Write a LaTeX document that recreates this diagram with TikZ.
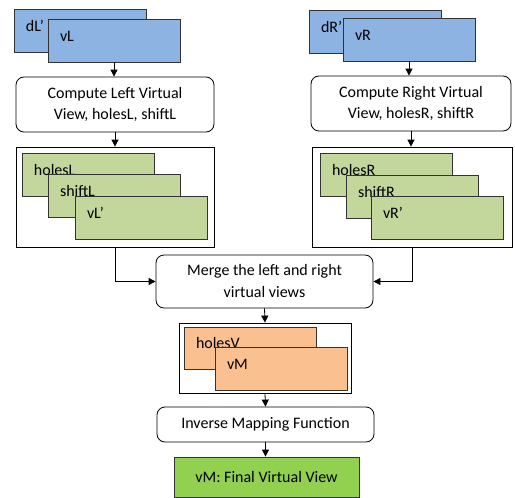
\documentclass[tikz,border=0pt]{standalone}
\usepackage{fontspec}
\setmainfont{Carlito}
\usepackage{tikz}
\usetikzlibrary{positioning, arrows.meta, calc}
\definecolor{view_blue}{HTML}{8DB3E2}
\definecolor{view_green}{HTML}{C3D69B}
\definecolor{view_orange}{HTML}{FAC090}
\definecolor{final_green}{HTML}{92D050}
\tikzstyle{block} = [rectangle, rounded corners=8pt, text centered, draw=black, align=center, line width=0.8pt]
\tikzstyle{frame} = [rectangle, draw=black, line width=0.8pt, inner sep=0pt]
\tikzstyle{sheet} = [rectangle, draw=black!80, line width=0.8pt, minimum width=132pt, minimum height=43pt, text width=108pt, inner xsep=12pt, align=left, text height=11pt, text depth=10pt]
\tikzstyle{arrow} = [line width=0.8pt,->,>={Triangle[length=7pt,width=7pt]}]

\begin{document}
\begin{tikzpicture}[x=1pt, y=-1pt, font=\fontsize{16}{21}\selectfont]
        \useasboundingbox (0,0) rectangle (515,498);
        % left input
        \node (dL) [sheet, fill=view_blue] at (80,30.5) {dL'};
        \node (vL) [sheet, fill=view_blue] at (114,40.5) {vL};
        \node (computeL) [block, minimum width=198pt, minimum height=55pt] at (115,104.5) {Compute Left Virtual\\View, holesL, shiftL};
        \node (boxL) [frame, minimum width=198pt, minimum height=100pt] at (115,197) {};
        \node (holesL) [sheet, fill=view_green] at (88,174.5) {holesL};
        \node (shiftL) [sheet, fill=view_green] at (114,195.5) {shiftL};
        \node (vLp) [sheet, fill=view_green] at (141,217.5) {vL'};
        % right input
        \node (dR) [sheet, fill=view_blue] at (375,31.5) {dR'};
        \node (vR) [sheet, fill=view_blue] at (409,39.5) {vR};
        \node (computeR) [block, minimum width=200pt, minimum height=55pt] at (411,103.5) {Compute Right Virtual\\View, holesR, shiftR};
        \node (boxR) [frame, minimum width=200pt, minimum height=100pt] at (412,197) {};
        \node (holesR) [sheet, fill=view_green] at (386,174.5) {holesR};
        \node (shiftR) [sheet, fill=view_green] at (412,196.5) {shiftR};
        \node (vRp) [sheet, fill=view_green] at (437,217.5) {vR'};
        % merging
        \node (merge) [block, minimum width=217pt, minimum height=53pt] at (264.5,281.5) {Merge the left and right\\[1pt]virtual views};
        \node (boxM) [frame, minimum width=172pt, minimum height=70pt] at (265,358) {};
        \node (holesV) [sheet, fill=view_orange, minimum height=42pt] at (250,348) {holesV};
        \node (vM) [sheet, fill=view_orange] at (281,368.5) {vM};
        \node (inverse) [block, minimum width=217pt, minimum height=35pt] at (265.5,424.5) {Inverse Mapping Function};
        \node (final) [rectangle, draw=black!80, line width=0.8pt, fill=final_green, minimum width=185pt, minimum height=40pt] at (266.5,477) {vM: Final Virtual View};

        \draw [arrow] (vL.south) -- (vL.south |- computeL.north);
        \draw [arrow] (computeL.south) -- (boxL.north);
        \draw [arrow] (vR.south) -- (vR.south |- computeR.north);
        \draw [arrow] (computeR.south) -- (computeR.south |- boxR.north);
        \draw [arrow] (boxL.south) |- (merge.west);
        \draw [arrow] (boxR.south) |- (merge.east);
        \draw [arrow] (merge.south) -- (boxM.north);
        \draw [arrow] (boxM.south) -- (inverse.north);
        \draw [arrow] (inverse.south) -- (inverse.south |- final.north);
    \end{tikzpicture}
\end{document}
